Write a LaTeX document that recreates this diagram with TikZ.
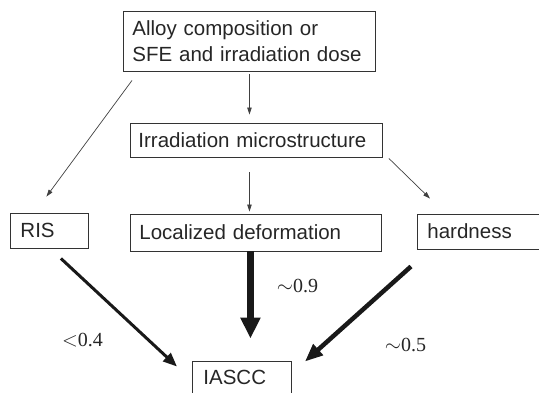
\documentclass[tikz,border=0pt]{standalone}
\usepackage{fontspec}
\setmainfont{Liberation Serif}
\setsansfont{Liberation Sans}
\usetikzlibrary{arrows.meta}
\begin{document}
\begin{tikzpicture}[x=1pt,y=-1pt,
  box/.style={draw=black!80, line width=0.9pt, rectangle, anchor=west, align=left,
    inner ysep=0pt, font=\sffamily\fontsize{20.5}{26}\selectfont, text=black!85},
  thinarr/.style={draw=black!75, line width=0.7pt, -{Triangle[length=7pt,width=4.5pt]}},
  arrA/.style={draw=black!90, line width=3pt, -{Triangle[length=14pt,width=11pt]}},
  arrB/.style={draw=black!90, line width=4.5pt, -{Triangle[length=18pt,width=14pt]}},
  arrC/.style={draw=black!90, line width=7pt, -{Triangle[length=21pt,width=19pt]}},
  lbl/.style={font=\rmfamily\fontsize{20}{22}\selectfont, text=black!85, inner sep=0pt, anchor=base}
]
\useasboundingbox (0,0) rectangle (539,392);
\clip (0,0) rectangle (539,392);

\node[box, inner xsep=9pt, text width=234pt, minimum height=60pt] (top) at (123,41)
  {Alloy composition or\\SFE and irradiation dose};
\node[box, inner xsep=8pt, text width=236pt, minimum height=34pt] (irr) at (130,140)
  {Irradiation microstructure};
\node[box, inner xsep=9pt, text width=233pt, minimum height=37pt] (loc) at (130,232.5)
  {Localized deformation};
\node[box, inner xsep=10pt, text width=58pt, minimum height=35pt] (ris) at (10,230.5)
  {RIS};
\node[box, inner xsep=10pt, text width=120pt, minimum height=35pt] (hard) at (417,231.5)
  {hardness};
\node[box, inner xsep=11pt, text width=77pt, minimum height=33pt] (iascc) at (192,377.5)
  {IASCC};

% thin arrows
\draw[thinarr, shorten <=3pt, shorten >=8pt] (top.south) -- (top.south |- irr.north);
\draw[thinarr] ([xshift=9pt,yshift=-9pt]top.south west) -- ([xshift=-3pt,yshift=16pt]ris.north);
\draw[thinarr] ([xshift=6pt,yshift=-1pt]irr.south east) -- ([xshift=13pt,yshift=15pt]hard.north west);
\draw[thinarr, shorten <=15pt, shorten >=2pt] ([xshift=-7pt]irr.south) -- ([xshift=-6.5pt]loc.north);

% weighted arrows
\draw[arrC, shorten >=22pt] ([xshift=-5.5pt]loc.south) -- ([xshift=-5.5pt]loc.south |- iascc.north);
\draw[arrA] ([xshift=-28pt,yshift=-10pt]ris.south east) -- ([xshift=-15pt,yshift=-6pt]iascc.north west);
\draw[arrB] ([xshift=-6pt,yshift=-17pt]hard.south west) -- ([xshift=13pt,yshift=-1pt]iascc.north east);

% labels
\node[lbl] (l1) at (82.5,346) {$<$0.4};
\node[lbl] (l2) at (297.5,292) {$\sim$0.9};
\node[lbl] (l3) at (405.5,351) {$\sim$0.5};
\end{tikzpicture}
\end{document}
